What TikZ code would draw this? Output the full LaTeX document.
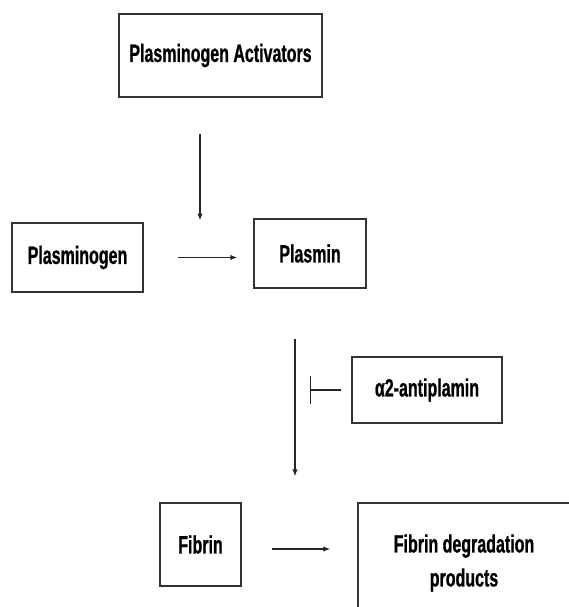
\documentclass[tikz,border=0pt]{standalone}
\usepackage{fontspec}
\newfontfamily\narrowsf[FakeStretch=0.64, BoldFeatures={FakeBold=0.8}]{Liberation Sans}
\usetikzlibrary{arrows.meta}
\tikzset{
  box/.style={draw=black!80, line width=1.3pt, align=center, inner sep=0pt,
    font=\narrowsf\bfseries\fontsize{25}{34}\selectfont},
  arr/.style={-{Latex[length=7pt,width=5.5pt]}, line width=1.4pt, draw=black!85},
  inh/.style={-{Bar[width=28pt,line width=1.3pt]}, line width=1.4pt, draw=black!85}
}
\begin{document}
\begin{tikzpicture}[x=1pt,y=-1pt]
    % Fix the size of the picture.
    \clip (0,0) rectangle (569,607);
    % Draw the boxes.
    \node[box, minimum width=203pt, minimum height=83pt] (pa) at (220.5,55.5) {Plasminogen Activators};
    \node[box, minimum width=131pt, minimum height=69pt] (plg) at (77.5,257.5) {Plasminogen};
    \node[box, minimum width=112pt, minimum height=69pt] (pls) at (310,253.5) {Plasmin};
    \node[box, minimum width=150pt, minimum height=66pt] (a2ap) at (427,390) {α2-antiplamin};
    \node[box, minimum width=81pt, minimum height=83pt] (fib) at (200.5,544.5) {Fibrin};
    \node[box, minimum width=212pt, minimum height=120pt] (fdp) at (464,563) {Fibrin degradation\\products};
    % Draw the activation of plasminogen.
    \coordinate (cat) at (200,257.5);
    \draw[arr, shorten <=34pt, shorten >=16pt] (plg.east) -- (plg.east -| pls.west);
    \draw[arr, shorten <=36pt, shorten >=37pt] (pa.south -| cat) -- (cat);
    % Draw the breakdown of fibrin and its inhibition.
    \draw[arr, shorten <=50pt, shorten >=26pt] ([xshift=-15pt]pls.south) -- ([xshift=-15pt]pls.south |- fib.north);
    \coordinate (blk) at (310,390);
    \draw[inh, shorten <=10pt] (a2ap.west) -- (blk);
    \draw[arr, shorten <=30pt, shorten >=27pt] ([yshift=-4.5pt]fib.east) -- ([yshift=-4.5pt]fib.east -| fdp.west);
\end{tikzpicture}
\end{document}
